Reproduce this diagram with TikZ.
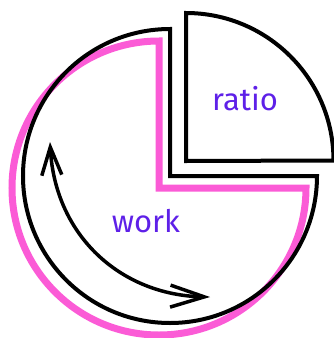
\documentclass[tikz,border=0pt]{standalone}
\usepackage{fontspec}
\setmainfont{Fira Sans}
\usetikzlibrary{arrows.meta}
\definecolor{piepink}{HTML}{FB5BD6}
\definecolor{slicepurple}{HTML}{5E20E8}

\begin{document}
\begin{tikzpicture}[
x=1pt, y=1pt,
slice/.style={line width=4pt},
shadowslice/.style={line width=7pt, draw=piepink},
slicetext/.style={font=\fontsize{31}{31}\selectfont, text=slicepurple, anchor=base, inner sep=0pt},
swing/.style={{Straight Barb[length=28pt,width=20pt]}-{Straight Barb[length=34pt,width=22pt]}, line width=3.5pt, line cap=round} ]

\useasboundingbox (0,0) rectangle (333,-338);

\coordinate (shadowC) at (159,-188);

\coordinate (workC) at (170,-176);

\coordinate (ratioC) at (186,-161);

\draw[shadowslice] (shadowC) -- ++(0,147) arc[start angle=90, end angle=360, radius=147] -- cycle;

\draw[slice] (workC) -- ++(0,147) arc[start angle=90, end angle=360, radius=147] -- cycle;

\draw[slice] (ratioC) -- ++(0,148) arc[start angle=90, end angle=0, radius=147.5] -- cycle;

\node[slicetext] (ratio) at (245,-110) {ratio};

\node[slicetext] (work) at (146,-232) {work};

\coordinate (swingTop) at (50,-142);

\coordinate (swingEnd) at (210,-297);

\draw[swing] (swingTop) .. controls (55,-235) and (120,-295) .. (swingEnd);

\end{tikzpicture}
\end{document}
